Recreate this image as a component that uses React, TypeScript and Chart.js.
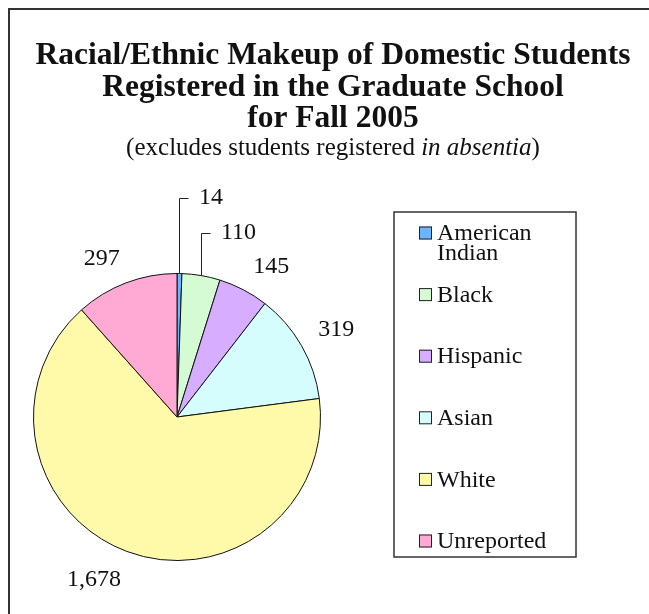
import React, { useEffect, useRef } from "react";
import { Chart, registerables } from "chart.js";

Chart.register(...registerables);

const categories = ["American Indian", "Black", "Hispanic", "Asian", "White", "Unreported"];
const counts = [14, 110, 145, 319, 1678, 297];
const valueLabels = ["14", "110", "145", "319", "1,678", "297"];
const sliceColors = ["#6cb4ff", "#d4fbd4", "#d6adff", "#d5fdfd", "#fffaaa", "#ffaad4"];
const titleLines = [
  "Racial/Ethnic Makeup of Domestic Students",
  "Registered in the Graduate School",
  "for Fall 2005",
];
const subtitleParts = [
  { text: "(excludes students registered ", italic: false },
  { text: "in absentia", italic: true },
  { text: ")", italic: false },
];

const FONT = "'Liberation Serif', 'Times New Roman', serif";

const decorPlugin = {
  id: "decor",
  afterDraw(chart: any) {
    const ctx = chart.ctx as CanvasRenderingContext2D;
    const W = chart.width;
    const H = chart.height;
    ctx.save();
    // outer frame (left and top visible)
    ctx.strokeStyle = "#333";
    ctx.lineWidth = 2;
    ctx.beginPath();
    ctx.moveTo(1, H + 5);
    ctx.lineTo(1, 1);
    ctx.lineTo(W + 5, 1);
    ctx.stroke();

    const cx = 325;
    // title
    ctx.fillStyle = "#111";
    ctx.textAlign = "center";
    ctx.textBaseline = "alphabetic";
    ctx.font = `bold 31.5px ${FONT}`;
    const baselines = [56, 88, 119];
    titleLines.forEach((t, i) => ctx.fillText(t, cx, baselines[i]));

    // subtitle with mixed italic
    const subSize = 25;
    const fonts = subtitleParts.map((p) => `${p.italic ? "italic " : ""}${subSize}px ${FONT}`);
    let total = 0;
    const widths = subtitleParts.map((p, i) => {
      ctx.font = fonts[i];
      const w = ctx.measureText(p.text).width;
      total += w;
      return w;
    });
    let x = cx - total / 2;
    ctx.textAlign = "left";
    subtitleParts.forEach((p, i) => {
      ctx.font = fonts[i];
      ctx.fillText(p.text, x, 147);
      x += widths[i];
    });

    // data labels
    const meta = chart.getDatasetMeta(0);
    const leaders: Record<number, number> = { 0: 76, 1: 43 };
    ctx.font = `24px ${FONT}`;
    ctx.textBaseline = "middle";
    ctx.strokeStyle = "#222";
    ctx.lineWidth = 1;
    meta.data.forEach((arc: any, i: number) => {
      const { x: ax, y: ay, startAngle, endAngle, outerRadius } = arc.getProps(
        ["x", "y", "startAngle", "endAngle", "outerRadius"],
        true
      );
      const mid = (startAngle + endAngle) / 2;
      const dx = Math.cos(mid);
      const dy = Math.sin(mid);
      const text = valueLabels[i];
      const w = ctx.measureText(text).width;
      if (leaders[i] !== undefined) {
        const ex = ax + outerRadius * dx;
        const ey = ay + outerRadius * dy;
        const topY = ey - leaders[i];
        ctx.beginPath();
        ctx.moveTo(Math.round(ex) + 0.5, ey);
        ctx.lineTo(Math.round(ex) + 0.5, Math.round(topY) + 0.5);
        ctx.lineTo(Math.round(ex) + 9.5, Math.round(topY) + 0.5);
        ctx.stroke();
        ctx.textAlign = "left";
        ctx.fillText(text, Math.round(ex) + 20, topY);
      } else {
        const d = outerRadius + 17;
        const px = ax + d * dx;
        const py = ay + d * dy;
        const tx = px + Math.sign(dx) * w / 2 + (dx > 0 ? 2 : 0);
        const ty = py + Math.sign(dy) * 10 + 2;
        ctx.textAlign = "center";
        ctx.fillText(text, tx, ty);
      }
    });

    // legend
    const bx = 386, by = 204, bw = 182, bh = 345;
    ctx.strokeStyle = "#333";
    ctx.lineWidth = 1.5;
    ctx.strokeRect(bx, by, bw, bh);
    ctx.font = `24px ${FONT}`;
    ctx.textAlign = "left";
    ctx.textBaseline = "middle";
    const rowStart = 225;
    const rowStep = 61.6;
    const textX = 429;
    const maxW = 130;
    categories.forEach((cat, i) => {
      const cy = rowStart + i * rowStep;
      ctx.fillStyle = sliceColors[i];
      ctx.fillRect(411, cy - 6.5, 13, 13);
      ctx.strokeStyle = "#222";
      ctx.lineWidth = 1;
      ctx.strokeRect(411.5, cy - 6, 12, 12);
      const words = cat.split(" ");
      const lines: string[] = [];
      let cur = "";
      words.forEach((wd) => {
        const test = cur ? cur + " " + wd : wd;
        if (ctx.measureText(test).width > maxW && cur) {
          lines.push(cur);
          cur = wd;
        } else cur = test;
      });
      if (cur) lines.push(cur);
      ctx.fillStyle = "#111";
      lines.forEach((ln, j) => ctx.fillText(ln, textX, cy + 1 + j * 20));
    });
    ctx.restore();
  },
};

export default function App() {
  const ref = useRef<HTMLCanvasElement | null>(null);
  useEffect(() => {
    document.body.style.margin = "8px 0 0 8px";
    document.body.style.overflow = "hidden";
    if (!ref.current) return;
    const chart = new Chart(ref.current, {
      type: "pie",
      data: {
        labels: categories,
        datasets: [
          {
            data: counts,
            backgroundColor: sliceColors,
            borderColor: "#111",
            borderWidth: 1,
          },
        ],
      },
      options: {
        animation: false,
        responsive: false,
        maintainAspectRatio: false,
        layout: { padding: { left: 25, top: 265, right: 328, bottom: 53 } },
        plugins: {
          legend: { display: false },
          title: { display: false },
          tooltip: { enabled: false },
        },
      },
      plugins: [decorPlugin],
    });
    return () => chart.destroy();
  }, []);
  return (
    <div style={{ width: 641, height: 606 }}>
      <canvas ref={ref} width={641} height={606} style={{ display: "block", width: 641, height: 606 }} />
    </div>
  );
}
